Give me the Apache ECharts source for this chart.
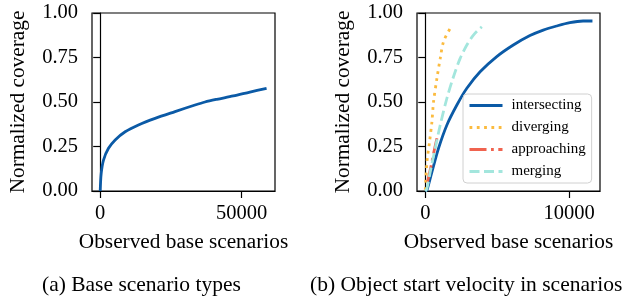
<!DOCTYPE html>
<html>
<head>
<meta charset="utf-8">
<script src="https://cdn.jsdelivr.net/npm/echarts@6/dist/echarts.min.js"></script>
<style>
html, body { margin: 0; padding: 0; background: #fff; }
#main { width: 625px; height: 305px; }
</style>
</head>
<body>
<div id="main"></div>
<script>
// (a) base scenario types
var baseX = [0, 353, 1164, 2929, 5293, 8821, 13515, 19407, 26464, 33521, 37050, 41200, 47040, 52930, 58820];
var baseY = [0, 0.099, 0.174, 0.240, 0.287, 0.333, 0.371, 0.408, 0.446, 0.483, 0.500, 0.515, 0.534, 0.556, 0.577];

// (b) object start velocity
var interX = [0, 118, 464, 922, 1504, 2197, 2890, 3811, 4969, 6119, 7277, 8198, 9127, 10048, 10970, 11620];
var interY = [0, 0.006, 0.108, 0.24, 0.371, 0.483, 0.577, 0.670, 0.755, 0.820, 0.873, 0.904, 0.927, 0.946, 0.955, 0.955];
var divX = [0, 118, 298, 464, 575, 811, 1040, 1268, 1733];
var divY = [0.006, 0.165, 0.277, 0.39, 0.502, 0.633, 0.745, 0.839, 0.914];
var appX = [159, 400, 600, 811];
var appY = [0.052, 0.14, 0.22, 0.296];
var mergeX = [0, 118, 346, 693, 1040, 1504, 1961, 2425, 2890, 3347, 3929];
var mergeY = [0, 0.015, 0.108, 0.24, 0.371, 0.521, 0.642, 0.745, 0.82, 0.876, 0.923];

var yTicks = [0, 0.25, 0.5, 0.75, 1];
var xTicksA = [0, 50000];
var xTicksB = [0, 10000];

function pairs(xs, ys) {
  var out = [];
  for (var i = 0; i < xs.length; i++) out.push([xs[i], ys[i]]);
  return out;
}

var font = 'Liberation Serif';
var myChart = echarts.init(document.getElementById('main'));

function xAxisCfg(idx, min, max, ticks) {
  return {
    type: 'value', gridIndex: idx, min: min, max: max,
    name: 'Observed base scenarios', nameLocation: 'middle', nameGap: 41,
    nameTextStyle: { fontFamily: font, fontSize: 21.3, color: '#000' },
    axisLine: { show: true, onZero: false, lineStyle: { color: '#000', width: 1.2 } },
    axisTick: { show: true, length: 7, customValues: ticks, lineStyle: { color: '#000', width: 1.2 } },
    axisLabel: { customValues: ticks, fontFamily: font, fontSize: 20.5, color: '#000', margin: 12,
      formatter: function (v) { return String(v); } },
    splitLine: { show: false }
  };
}
function yAxisCfg(idx) {
  return {
    type: 'value', gridIndex: idx, min: 0, max: 1, interval: 0.25,
    name: 'Normalized coverage', nameLocation: 'middle', nameGap: 63,
    nameTextStyle: { fontFamily: font, fontSize: 21.3, color: '#000' },
    axisLine: { show: true, lineStyle: { color: '#000', width: 1.2 } },
    axisTick: { show: true, length: 7, lineStyle: { color: '#000', width: 1.2 } },
    axisLabel: { customValues: yTicks, fontFamily: font, fontSize: 20.5, color: '#000', margin: 14,
      formatter: function (v) { return v.toFixed(2); } },
    splitLine: { show: false }
  };
}

option = {
  animation: false,
  grid: [
    { left: 92, top: 13, width: 183, height: 178, show: true, borderColor: '#000', borderWidth: 1.2 },
    { left: 417, top: 13, width: 183, height: 178, show: true, borderColor: '#000', borderWidth: 1.2 }
  ],
  xAxis: [xAxisCfg(0, -2900, 61800, xTicksA), xAxisCfg(1, -575, 12145, xTicksB)],
  yAxis: [yAxisCfg(0), yAxisCfg(1)],
  legend: {
    left: 463, top: 94, orient: 'vertical',
    padding: [4, 6, 4, 5], itemGap: 7, itemWidth: 33, itemHeight: 14,
    borderColor: '#d0d0d0', borderWidth: 1, borderRadius: 4, backgroundColor: 'rgba(255,255,255,0.8)',
    itemStyle: { opacity: 0 },
    lineStyle: { width: 3 },
    textStyle: { fontFamily: font, fontSize: 15, color: '#000', padding: [0, 0, 0, 4] },
    data: ['intersecting', 'diverging', 'approaching', 'merging']
  },
  series: [
    { type: 'line', xAxisIndex: 0, yAxisIndex: 0, symbol: 'none', smooth: 0.3,
      data: pairs(baseX, baseY), lineStyle: { color: '#0b5aa6', width: 2.8 }, itemStyle: { color: '#0b5aa6' } },
    { name: 'intersecting', type: 'line', xAxisIndex: 1, yAxisIndex: 1, symbol: 'none', smooth: 0.3,
      data: pairs(interX, interY), lineStyle: { color: '#0b5aa6', width: 2.8 }, itemStyle: { color: '#0b5aa6' } },
    { name: 'diverging', type: 'line', xAxisIndex: 1, yAxisIndex: 1, symbol: 'none', smooth: 0.3,
      data: pairs(divX, divY), lineStyle: { color: '#fbbb3f', width: 2.8, type: [2.8, 4.5] }, itemStyle: { color: '#fbbb3f' } },
    { name: 'approaching', type: 'line', xAxisIndex: 1, yAxisIndex: 1, symbol: 'none', smooth: 0.3,
      data: pairs(appX, appY), lineStyle: { color: '#f0634f', width: 2.8, type: [17, 4.5, 2.8, 4.5] }, itemStyle: { color: '#f0634f' } },
    { name: 'merging', type: 'line', xAxisIndex: 1, yAxisIndex: 1, symbol: 'none', smooth: 0.3,
      data: pairs(mergeX, mergeY), lineStyle: { color: '#a3e6dd', width: 2.8, type: [10, 4.5] }, itemStyle: { color: '#a3e6dd' } }
  ],
  graphic: [
    { type: 'text', left: 42, top: 274, style: { text: '(a) Base scenario types', fontFamily: font, fontSize: 21.5, fill: '#000' } },
    { type: 'text', left: 310, top: 274, style: { text: '(b) Object start velocity in scenarios', fontFamily: font, fontSize: 21.5, fill: '#000' } }
  ]
};
myChart.setOption(option);

window.onresize = function () {
  myChart.resize();
};
</script>
</body>
</html>
